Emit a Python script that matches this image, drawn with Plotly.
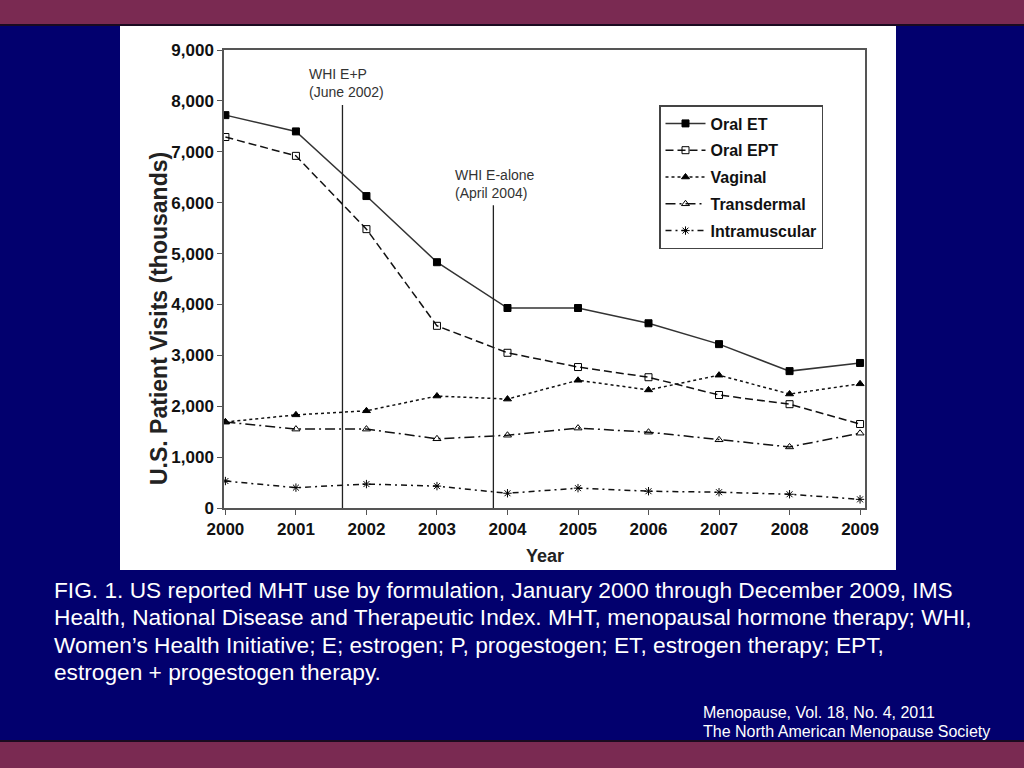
import plotly.graph_objects as go

# data (thousands of visits)
years = [2000, 2001, 2002, 2003, 2004, 2005, 2006, 2007, 2008, 2009]
oral_et = [7720, 7400, 6130, 4830, 3930, 3930, 3630, 3220, 2690, 2850]
oral_ept = [7290, 6920, 5480, 3580, 3050, 2770, 2570, 2220, 2040, 1650]
vaginal = [1690, 1830, 1910, 2200, 2140, 2510, 2320, 2610, 2240, 2440]
transdermal = [1690, 1550, 1550, 1360, 1430, 1570, 1490, 1340, 1200, 1470]
intramuscular = [530, 400, 470, 430, 290, 390, 330, 310, 270, 170]

series_names = ["Oral ET", "Oral EPT", "Vaginal", "Transdermal", "Intramuscular"]

# WHI publication markers
event_x = [2001.66, 2003.8]
event_top = [7920, 5950]
event_labels = ["WHI E+P<br>(June 2002)", "WHI E-alone<br>(April 2004)"]

y_ticks = [0, 1000, 2000, 3000, 4000, 5000, 6000, 7000, 8000, 9000]

caption_lines = [
    "FIG. 1. US reported MHT use by formulation, January 2000 through December 2009, IMS",
    "Health, National Disease and Therapeutic Index. MHT, menopausal hormone therapy; WHI,",
    "Women\u2019s Health Initiative; E; estrogen; P, progestogen; ET, estrogen therapy; EPT,",
    "estrogen + progestogen therapy.",
]
source_lines = ["Menopause, Vol. 18, No. 4, 2011", "The North American Menopause Society"]

W, H = 1024, 768
NAVY = "#02006e"
MAROON = "#7a2a52"
FONT = "Liberation Sans, Arial, sans-serif"


def px_x(v):
    return v / W


def px_y(v):
    return 1 - v / H


styles = [
    dict(dash="solid", symbol="square", color="#333333"),
    dict(dash="8px,4px", symbol="square-open", color="#111111"),
    dict(dash="dot", symbol="triangle-up", color="#111111"),
    dict(dash="10px,4px,2px,4px", symbol="triangle-up-open", color="#111111"),
    dict(dash="6px,4px,2px,4px", symbol="asterisk-open", color="#111111"),
]

fig = go.Figure()
for name, vals, st in zip(series_names, [oral_et, oral_ept, vaginal, transdermal, intramuscular], styles):
    fig.add_trace(go.Scatter(
        x=years, y=vals, name=name, mode="lines+markers", legendgroup=name,
        line=dict(color=st["color"], width=1.5, dash=st["dash"]),
        marker=dict(symbol=st["symbol"], size=7, color="#000000",
                    line=dict(color="#000000", width=1)),
    ))

shapes = [
    # slide background pieces
    dict(type="rect", xref="paper", yref="paper", x0=0, x1=1, y0=px_y(25), y1=1,
         fillcolor=MAROON, line=dict(width=0), layer="below"),
    dict(type="line", xref="paper", yref="paper", x0=0, x1=1, y0=px_y(25), y1=px_y(25),
         line=dict(color="#1a0a20", width=2), layer="below"),
    dict(type="rect", xref="paper", yref="paper", x0=0, x1=1, y0=0, y1=px_y(741),
         fillcolor=MAROON, line=dict(width=0), layer="below"),
    dict(type="line", xref="paper", yref="paper", x0=0, x1=1, y0=px_y(741), y1=px_y(741),
         line=dict(color="#1a0a20", width=2), layer="below"),
    dict(type="rect", xref="paper", yref="paper", x0=px_x(120), x1=px_x(896),
         y0=px_y(570), y1=px_y(26), fillcolor="white", line=dict(width=0), layer="below"),
]
for ex, et in zip(event_x, event_top):
    shapes.append(dict(type="line", xref="x", yref="y", x0=ex, x1=ex, y0=0, y1=et,
                       line=dict(color="#222222", width=1.3)))

annotations = []
for ex, et, lab, off in zip(event_x, event_top, event_labels, [0.5, 0.57]):
    annotations.append(dict(xref="x", yref="y", x=ex - off, y=et + 50, text=lab,
                            showarrow=False, xanchor="left", yanchor="bottom", align="left",
                            font=dict(family=FONT, size=14, color="#333333")))
annotations.append(dict(xref="paper", yref="paper", x=px_x(144), y=px_y(319),
                        text="U.S. Patient Visits (thousands)", textangle=-90, showarrow=False,
                        font=dict(family=FONT, size=23, color="#222222", weight="bold")))
annotations.append(dict(xref="paper", yref="paper", x=px_x(545), y=px_y(568), text="Year",
                        showarrow=False,
                        font=dict(family=FONT, size=18, color="#222222", weight="bold")))
for i, line in enumerate(caption_lines):
    annotations.append(dict(xref="paper", yref="paper", x=px_x(52), y=px_y(590 + 27.4 * i),
                            text=line, showarrow=False, xanchor="left", yanchor="middle",
                            font=dict(family=FONT, size=22.7, color="white")))
for i, line in enumerate(source_lines):
    annotations.append(dict(xref="paper", yref="paper", x=px_x(701), y=px_y(712 + 19.5 * i),
                            text=line, showarrow=False, xanchor="left", yanchor="middle",
                            font=dict(family=FONT, size=16, color="white")))

fig.update_layout(
    width=W, height=H,
    margin=dict(l=0, r=0, t=0, b=0, autoexpand=False),
    paper_bgcolor=NAVY, plot_bgcolor="white",
    shapes=shapes, annotations=annotations,
    legend=dict(x=px_x(659), y=px_y(105), xanchor="left", yanchor="top",
                bgcolor="white", bordercolor="#444444", borderwidth=1.5,
                itemwidth=40, tracegroupgap=3,
                font=dict(family=FONT, size=16, color="#111111", weight="bold")),
    xaxis=dict(domain=[px_x(224), px_x(865)], range=[1999.98, 2009.07],
               tickvals=years, tickformat="d", showgrid=False, zeroline=False,
               showline=True, linecolor="#555555", linewidth=1.5, mirror=True,
               ticks="outside", ticklen=5, tickcolor="#555555",
               tickfont=dict(family=FONT, size=17, color="#111111", weight="bold")),
    yaxis=dict(domain=[px_y(508), px_y(50)], range=[0, 9000],
               tickvals=y_ticks, tickformat=",d", showgrid=False, zeroline=False,
               showline=True, linecolor="#555555", linewidth=1.5, mirror=True,
               ticks="outside", ticklen=5, tickcolor="#555555",
               tickfont=dict(family=FONT, size=17, color="#111111", weight="bold")),
)

# drop the default 8px page margin so the slide sits flush with the window
fig.write_html("out.html", config={"displayModeBar": False},
               post_script="document.body.style.margin = '0px';")
